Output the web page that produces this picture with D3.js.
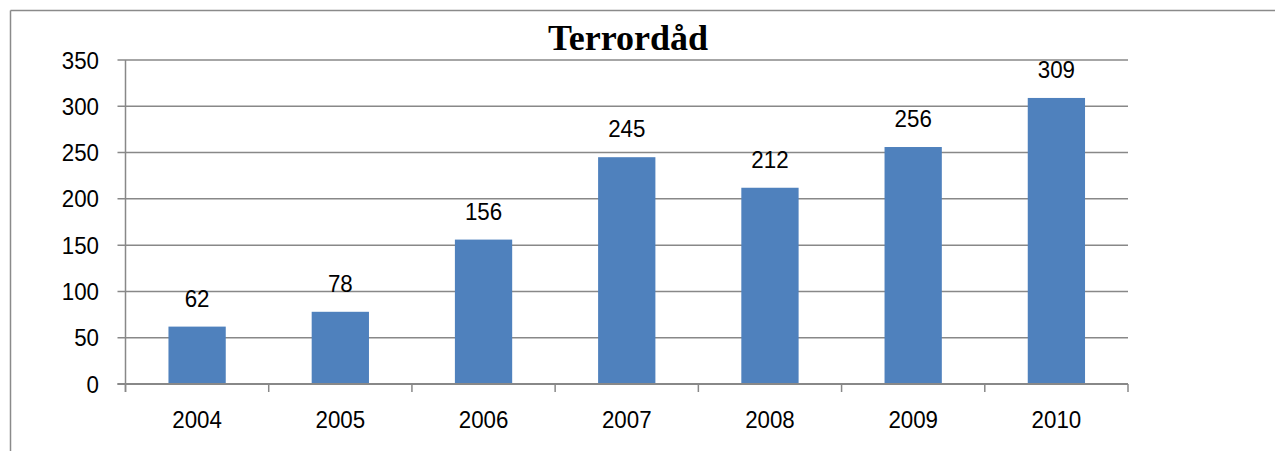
<!DOCTYPE html>
<html>
<head>
<meta charset="utf-8">
<script src="https://cdn.jsdelivr.net/npm/d3@7"></script>
<style>
  html, body { margin: 0; padding: 0; background: #fff; }
  svg { display: block; }
</style>
</head>
<body>
<svg id="chart" width="1275" height="451"></svg>
<script>
const title = "Terrordåd";
const categories = ["2004", "2005", "2006", "2007", "2008", "2009", "2010"];
const values = [62, 78, 156, 245, 212, 256, 309];
const yTicks = [0, 50, 100, 150, 200, 250, 300, 350];

(function () {
const svg = d3.select("#chart");
const W = 1275, H = 451;
const mLeft = 125.5, mRight = 1128, mTop = 60, mBottom = 384;
const gridColor = "#888888";
const fontSans = "'Liberation Sans', Arial, sans-serif";
const fs = 24, sx = 0.93;

// outer chart border (top and left visible)
svg.append("line").attr("x1", 10.5).attr("x2", W).attr("y1", 10.5).attr("y2", 10.5)
  .attr("stroke", "#8a8a8a").attr("stroke-width", 1.5);
svg.append("line").attr("x1", 10.5).attr("x2", 10.5).attr("y1", 10.5).attr("y2", H)
  .attr("stroke", "#8a8a8a").attr("stroke-width", 1.5);

const x = d3.scaleBand().domain(categories).range([mLeft, mRight]).padding(0);
const y = d3.scaleLinear().domain([0, 350]).range([mBottom, mTop]);

// gridlines + y tick marks
svg.append("g").selectAll("line").data(yTicks).join("line")
  .attr("x1", mLeft - 8).attr("x2", mRight)
  .attr("y1", d => y(d)).attr("y2", d => y(d))
  .attr("stroke", gridColor).attr("stroke-width", 1.5);

function label(g, px, py, anchor, txt) {
  g.append("text")
    .attr("transform", `translate(${px},${py}) scale(${sx},1)`)
    .attr("text-anchor", anchor)
    .attr("font-family", fontSans).attr("font-size", fs).attr("fill", "#000")
    .text(txt);
}

// y labels
const gy = svg.append("g");
yTicks.forEach(d => label(gy, 99, y(d) + 8.5, "end", d));

// bars
const barFrac = 0.4;
svg.append("g").selectAll("rect").data(values).join("rect")
  .attr("x", (d, i) => x(categories[i]) + x.bandwidth() * (1 - barFrac) / 2)
  .attr("width", x.bandwidth() * barFrac)
  .attr("y", d => y(d))
  .attr("height", d => y(0) - y(d))
  .attr("fill", "#4F81BD");

// y axis line
svg.append("line").attr("x1", mLeft).attr("x2", mLeft).attr("y1", mTop).attr("y2", mBottom + 8)
  .attr("stroke", gridColor).attr("stroke-width", 1.5);
// x axis line
svg.append("line").attr("x1", mLeft - 8).attr("x2", mRight).attr("y1", y(0)).attr("y2", y(0))
  .attr("stroke", gridColor).attr("stroke-width", 2);
// x tick marks at category boundaries
const bounds = categories.map(c => x(c)).concat([mRight]);
svg.append("g").selectAll("line").data(bounds).join("line")
  .attr("x1", d => d).attr("x2", d => d)
  .attr("y1", y(0)).attr("y2", y(0) + 8)
  .attr("stroke", gridColor).attr("stroke-width", 1.5);

// x labels
const gx = svg.append("g");
categories.forEach(c => label(gx, x(c) + x.bandwidth() / 2, 427.5, "middle", c));

// value labels
const gv = svg.append("g");
values.forEach((v, i) => label(gv, x(categories[i]) + x.bandwidth() / 2, y(v) - 20, "middle", v));

// title
svg.append("text").attr("x", 628).attr("y", 50)
  .attr("text-anchor", "middle")
  .attr("font-family", "'Liberation Serif', 'Times New Roman', serif")
  .attr("font-weight", "bold").attr("font-size", 36).attr("fill", "#000")
  .text(title);
})();
</script>
</body>
</html>
